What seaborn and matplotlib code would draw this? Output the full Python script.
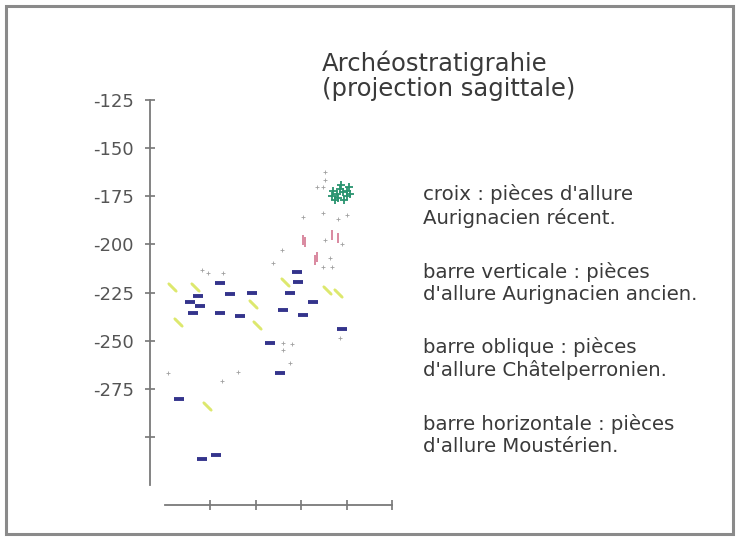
import matplotlib
matplotlib.use("Agg")
import matplotlib.pyplot as plt
from matplotlib.patches import Rectangle
import seaborn as sns
import pandas as pd

# Relevés des pièces : abscisse (m) et altitude (cm) par type d'allure
mousterien_x = [1.22, 0.74, 0.78, 0.63, 1.22, 1.44, 1.66, 1.92, 0.56, 2.91, 2.93,
                2.76, 3.26, 2.60, 3.04, 3.90, 2.32, 2.54, 0.32, 0.82, 1.13]
mousterien_z = [-220, -227, -232, -235.5, -235.5, -225.5, -237, -225, -230, -214.5, -219.5,
                -225, -230, -234, -236.5, -244, -251, -266.5, -280, -311.5, -309.5]

chatelperronien_x = [0.16, 0.67, 1.95, 0.30, 2.03, 2.65, 3.57, 3.81, 0.93]
chatelperronien_z = [-222, -222, -231, -240, -241.7, -219.5, -223.5, -225, -284]

aurignacien_ancien_x = [3.04, 3.09, 3.68, 3.81, 3.35, 3.31]
aurignacien_ancien_z = [-197.6, -198.7, -195, -196.6, -206.5, -208]

aurignacien_recent_x = [3.70, 3.78, 3.85, 3.92, 4.00, 4.05, 3.82, 3.95, 4.02, 3.88, 3.75, 4.08, 3.68]
aurignacien_recent_z = [-172, -174, -171, -173, -172, -170, -176, -177, -175, -169, -177, -174, -175]

autres_x = [3.53, 3.53, 3.35, 3.48, 3.53, 3.90, 3.64, 3.48, 3.68, 0.08, 1.26, 1.62, 2.60,
            2.80, 2.60, 2.76, 3.86, 0.82, 0.96, 1.28, 3.48, 3.81, 4.01, 3.04, 2.38, 2.58]
autres_z = [-162.3, -166.5, -170, -170, -197.6, -200, -207, -211.6, -211.6, -266.6, -270.8,
            -266, -251, -251.5, -254.7, -261.4, -248.5, -213, -215, -215, -183.6, -187,
            -184.7, -186, -209.5, -203]

y_ticks = [-125, -150, -175, -200, -225, -250, -275, -300]
y_labels = ["-125", "-150", "-175", "-200", "-225", "-250", "-275", ""]
x_ticks = [1, 2, 3, 4, 5]

legende = [
    "croix : pièces d'allure\nAurignacien récent.",
    "barre verticale : pièces\nd'allure Aurignacien ancien.",
    "barre oblique : pièces\nd'allure Châtelperronien.",
    "barre horizontale : pièces\nd'allure Moustérien.",
]
titre = "Archéostratigrahie\n(projection sagittale)"

sns.set_style("white")
plt.rcParams["font.family"] = ["DejaVu Sans"]
plt.rcParams["axes.unicode_minus"] = False

fig = plt.figure(figsize=(7.39, 5.39), dpi=100)
ax = fig.add_axes([0.2226, 0.0997, 0.3079, 0.7148])

series = [
    (autres_x, autres_z, "+", "#a0a0a0", 8, 0.6),
    (chatelperronien_x, chatelperronien_z, (2, 2, 45), "#dde86e", 55, 1.8),
    (mousterien_x, mousterien_z, "_", "#34348c", 50, 2.8),
    (aurignacien_ancien_x, aurignacien_ancien_z, "|", "#d06a86", 45, 1.1),
    (aurignacien_recent_x, aurignacien_recent_z, "+", "#2a9470", 26, 1.3),
]
for xs, zs, mk, col, size, lw in series:
    df = pd.DataFrame({"x": xs, "z": zs})
    sns.scatterplot(data=df, x="x", y="z", marker=mk, color=col, s=size,
                    linewidth=lw, ax=ax, legend=False, zorder=3)

ax.set_xlim(0, 5)
ax.set_ylim(-325, -125)
ax.set_xlabel("")
ax.set_ylabel("")
ax.set_xticks(x_ticks)
ax.set_xticklabels([])
ax.set_yticks(y_ticks)
ax.set_yticklabels(y_labels)

for side in ("top", "right"):
    ax.spines[side].set_visible(False)
ax.spines["left"].set_position(("outward", 10.5))
ax.spines["bottom"].set_position(("outward", 14.5))
for side in ("left", "bottom"):
    ax.spines[side].set_color("#7a7a7a")
    ax.spines[side].set_linewidth(1.3)
ax.tick_params(axis="both", which="major", bottom=True, left=True,
               direction="inout", length=7, width=1.1,
               color="#6a6a6a", labelsize=13, labelcolor="#555555")
ax.tick_params(axis="y", pad=8)

fig.text(0.4357, 1 - 51 / 539, titre, fontsize=17.5, color="#3a3a3a",
         va="top", ha="left", linespacing=1.05)

centres = [206, 282.5, 358.5, 435]
for txt, yc in zip(legende, centres):
    fig.text(0.572, 1 - yc / 539, txt, fontsize=14.2, color="#3a3a3a",
             va="center", ha="left", linespacing=1.2)

fig.add_artist(Rectangle((6 / 739, 5 / 539), 727 / 739, 528 / 539,
                         transform=fig.transFigure, fill=False,
                         edgecolor="#8a8a8a", linewidth=2.2))

fig.savefig("out.png", dpi=100)
